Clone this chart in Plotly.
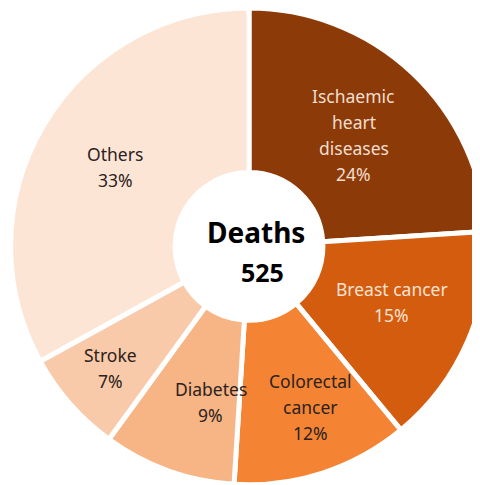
import math
import plotly.graph_objects as go

# ---- data ----
categories = ["Ischaemic heart diseases", "Breast cancer", "Colorectal cancer", "Diabetes", "Stroke", "Others"]
label_lines = [["Ischaemic", "heart", "diseases"], ["Breast cancer"], ["Colorectal", "cancer"], ["Diabetes"], ["Stroke"], ["Others"]]
values = [24, 15, 12, 9, 7, 33]
center_title = "Deaths"
center_value = 525

# ---- style ----
colors = ["#8C3B08", "#D45C0E", "#F48434", "#F7B484", "#F9CAA9", "#FDE5D6"]
text_colors = ["#F3DDCD", "#F8E2D2", "#2B2220", "#2B2220", "#2B2220", "#2B2220"]
label_radius = [0.65, 0.65, 0.73, 0.68, 0.78, 0.66]   # fraction of outer radius
label_angle_nudge = [0, -2, -3, -6, 0, 0]            # degrees
W, H = 480, 485
dom_x = [0.0052, 0.999]
dom_y = [0.017, 1.0]
line_w = 5
font = "Noto Sans"
fsize = 17.5
line_gap = 26

fig = go.Figure(go.Pie(
    labels=categories,
    values=values,
    sort=False,
    direction="clockwise",
    rotation=0,
    hole=0.31,
    marker=dict(colors=colors, line=dict(color="white", width=line_w)),
    textinfo="none",
    showlegend=False,
    hoverinfo="label+percent",
    domain=dict(x=dom_x, y=dom_y),
))

# geometry of the pie (plotly layout rules)
cx = W * (dom_x[0] + dom_x[1]) / 2
cy = H * (1 - (dom_y[0] + dom_y[1]) / 2)
R = min(W * (dom_x[1] - dom_x[0]), H * (dom_y[1] - dom_y[0])) / 2 - line_w / 2

total = sum(values)
cum = 0
for i, v in enumerate(values):
    mid = (cum + v / 2) / total * 360 + label_angle_nudge[i]
    cum += v
    a = math.radians(mid)
    px = cx + label_radius[i] * R * math.sin(a)
    py = cy - label_radius[i] * R * math.cos(a)
    lines = label_lines[i] + [f"{round(v / total * 100)}%"]
    n = len(lines)
    for j, t in enumerate(lines):
        fig.add_annotation(
            text=t, x=px / W, y=1 - py / H, xref="paper", yref="paper",
            xanchor="center", yanchor="middle",
            yshift=((n - 1) / 2 - j) * line_gap,
            showarrow=False, font=dict(family=font, size=fsize, color=text_colors[i]),
        )

fig.add_annotation(
    text=f"<b>{center_title}</b>",
    x=0.5177, y=0.5381, xref="paper", yref="paper",
    showarrow=False, font=dict(family=font, size=28, color="black"),
)
fig.add_annotation(
    text=f"<b>{center_value}</b>",
    x=0.5302, y=0.4557, xref="paper", yref="paper",
    showarrow=False, font=dict(family=font, size=25, color="black"),
)

fig.update_layout(
    width=W, height=H,
    margin=dict(l=0, r=0, t=0, b=0),
    paper_bgcolor="white", plot_bgcolor="white",
)

fig.write_html("out.html")
